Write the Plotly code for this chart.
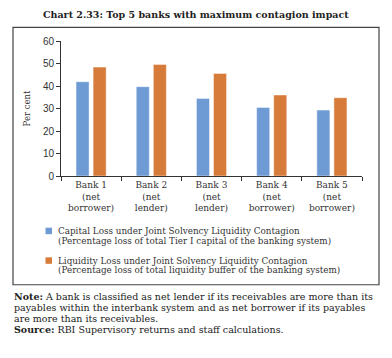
import plotly.graph_objects as go

categories = ["Bank 1<br>(net<br>borrower)", "Bank 2<br>(net<br>lender)", "Bank 3<br>(net<br>lender)",
              "Bank 4<br>(net<br>borrower)", "Bank 5<br>(net<br>borrower)"]
capital_loss = [41.9, 39.7, 34.5, 30.5, 29.3]
liquidity_loss = [48.4, 49.6, 45.6, 36.0, 34.8]
y_ticks = [0, 10, 20, 30, 40, 50, 60]
series_names = [
    ["Capital Loss under Joint Solvency Liquidity Contagion",
     "(Percentage loss of total Tier I capital of the banking system)"],
    ["Liquidity Loss under Joint Solvency Liquidity Contagion",
     "(Percentage loss of total liquidity buffer of the banking system)"],
]
series_colors = ["#6f9bd5", "#d77b3a"]
note_lines = [
    "<b>Note:</b> A bank is classified as net lender if its receivables are more than its",
    "payables within the interbank system and as net borrower if its payables",
    "are more than its receivables.",
    "<b>Source:</b> RBI Supervisory returns and staff calculations.",
]

SERIF = "DejaVu Serif"
SANS = "Liberation Sans"

fig = go.Figure()
for vals, color, names in zip([capital_loss, liquidity_loss], series_colors, series_names):
    fig.add_trace(go.Bar(x=categories, y=vals, name="<br>".join(names),
                         marker=dict(color=color, line=dict(color="rgba(255,255,255,0.45)", width=1))))

W, H = 392, 358
L, R, T, B = 61, 362, 40.7, 176
pw, ph = R - L, B - T

def px(x):
    return (x - L) / pw

def py(y):
    return (B - y) / ph

shapes = [dict(type="rect", xref="paper", yref="paper",
               x0=px(13), x1=px(379), y0=py(285), y1=py(27),
               line=dict(color="#444", width=1.2), fillcolor="rgba(0,0,0,0)")]
annotations = [
    dict(text="<b>Chart 2.33: Top 5 banks with maximum contagion impact</b>",
         xref="paper", yref="paper", x=px(196), y=py(14), xanchor="center", yanchor="middle",
         showarrow=False, font=dict(family=SERIF, size=9.5, color="#222")),
]
for line, yc in zip(note_lines, [296.7, 307.7, 318.4, 330]):
    annotations.append(dict(text=line, xref="paper", yref="paper", x=px(12), y=py(yc),
                            xanchor="left", yanchor="middle", align="left", showarrow=False,
                            font=dict(family=SERIF, size=9.5, color="#222")))

# legend (manual, to match the small square keys)
leg_lines = [(231, 241), (260.7, 270.7)]
for names, color, (y1, y2) in zip(series_names, series_colors, leg_lines):
    shapes.append(dict(type="rect", xref="paper", yref="paper",
                       x0=px(45.5), x1=px(52), y0=py(y1 + 3.3), y1=py(y1 - 3.2),
                       line=dict(width=0), fillcolor=color))
    for txt, yc in zip(names, (y1, y2)):
        annotations.append(dict(text=txt, xref="paper", yref="paper", x=px(56), y=py(yc),
                                xanchor="left", yanchor="middle", align="left", showarrow=False,
                                font=dict(family=SERIF, size=8.8, color="#333")))

fig.update_layout(
    width=W, height=H,
    margin=dict(l=L, r=W - R, t=T, b=H - B, autoexpand=False),
    paper_bgcolor="white", plot_bgcolor="white",
    barmode="group", bargap=0.433, bargroupgap=0.235,
    showlegend=False,
    xaxis=dict(showline=True, linecolor="#333", linewidth=1,
               ticks="outside", tickson="boundaries", ticklen=4, tickcolor="#333",
               tickfont=dict(family=SERIF, size=9, color="#333")),
    yaxis=dict(range=[0, 60], tickvals=y_ticks, showline=True, linecolor="#333", linewidth=1,
               ticks="outside", ticklen=4, tickcolor="#333", showgrid=False, zeroline=False,
               tickfont=dict(family=SANS, size=10, color="#333"),
               title=dict(text="Per cent", font=dict(family=SERIF, size=8.5, color="#333"), standoff=10)),
    font=dict(family=SERIF, color="#333"),
    shapes=shapes,
    annotations=annotations,
)

fig.write_html("out.html", config={"displayModeBar": False},
               post_script="document.body.style.margin='0';")
